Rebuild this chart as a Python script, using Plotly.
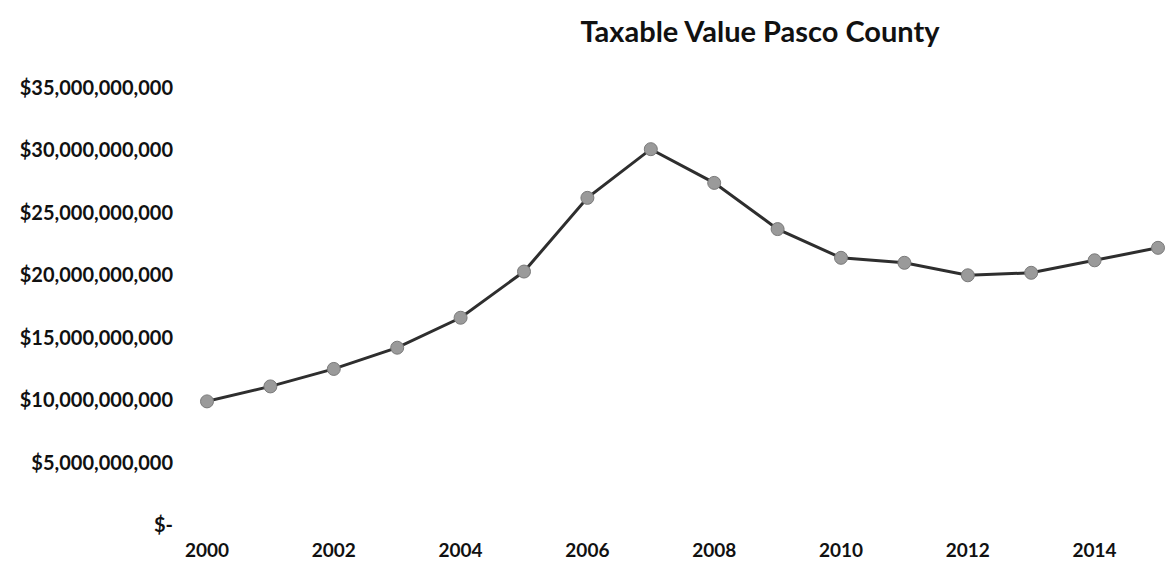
import plotly.graph_objects as go

years = list(range(2000, 2016))
taxable_value = [9.9e9, 11.1e9, 12.5e9, 14.2e9, 16.6e9, 20.3e9, 26.2e9, 30.1e9,
                 27.4e9, 23.7e9, 21.4e9, 21.0e9, 20.0e9, 20.2e9, 21.2e9, 22.2e9]
y_tickvals = [0, 5e9, 10e9, 15e9, 20e9, 25e9, 30e9, 35e9]
y_ticktext = ["$-", "$5,000,000,000", "$10,000,000,000", "$15,000,000,000",
              "$20,000,000,000", "$25,000,000,000", "$30,000,000,000", "$35,000,000,000"]
x_tickvals = [2000, 2002, 2004, 2006, 2008, 2010, 2012, 2014]
x_ticktext = [str(v) for v in x_tickvals]

fig = go.Figure()
fig.add_trace(go.Scatter(
    x=years, y=taxable_value, mode="lines+markers",
    line=dict(color="#2e2e2e", width=3),
    marker=dict(color="#9a9a9a", size=13, line=dict(color="#7a7a7a", width=1)),
    cliponaxis=False, showlegend=False,
))

font_family = "Lato, 'Open Sans', sans-serif"
fig.update_layout(
    width=1170, height=565,
    margin=dict(l=207, r=12, t=88, b=40),
    paper_bgcolor="white", plot_bgcolor="white",
    title=dict(text="<b>Taxable Value Pasco County</b>", x=760/1170, xanchor="center",
               y=1 - 32/565, yanchor="middle", xref="container", yref="container",
               font=dict(family=font_family, size=29, color="#111")),
    xaxis=dict(range=[2000, 2015], tickvals=x_tickvals, ticktext=x_ticktext,
               showgrid=False, zeroline=False, showline=False, ticks="",
               tickfont=dict(family=font_family, size=19, color="#111"),
               ticklabelstandoff=12, automargin=False),
    yaxis=dict(range=[0, 35e9], tickvals=y_tickvals, ticktext=y_ticktext,
               showgrid=False, zeroline=False, showline=False, ticks="",
               tickfont=dict(family=font_family, size=20, color="#111"),
               ticklabelstandoff=33, automargin=False),
    font=dict(family=font_family, color="#111"),
)
fig.update_xaxes(tickfont_weight="bold")
fig.update_yaxes(tickfont_weight="bold")
fig.write_html("out.html")
